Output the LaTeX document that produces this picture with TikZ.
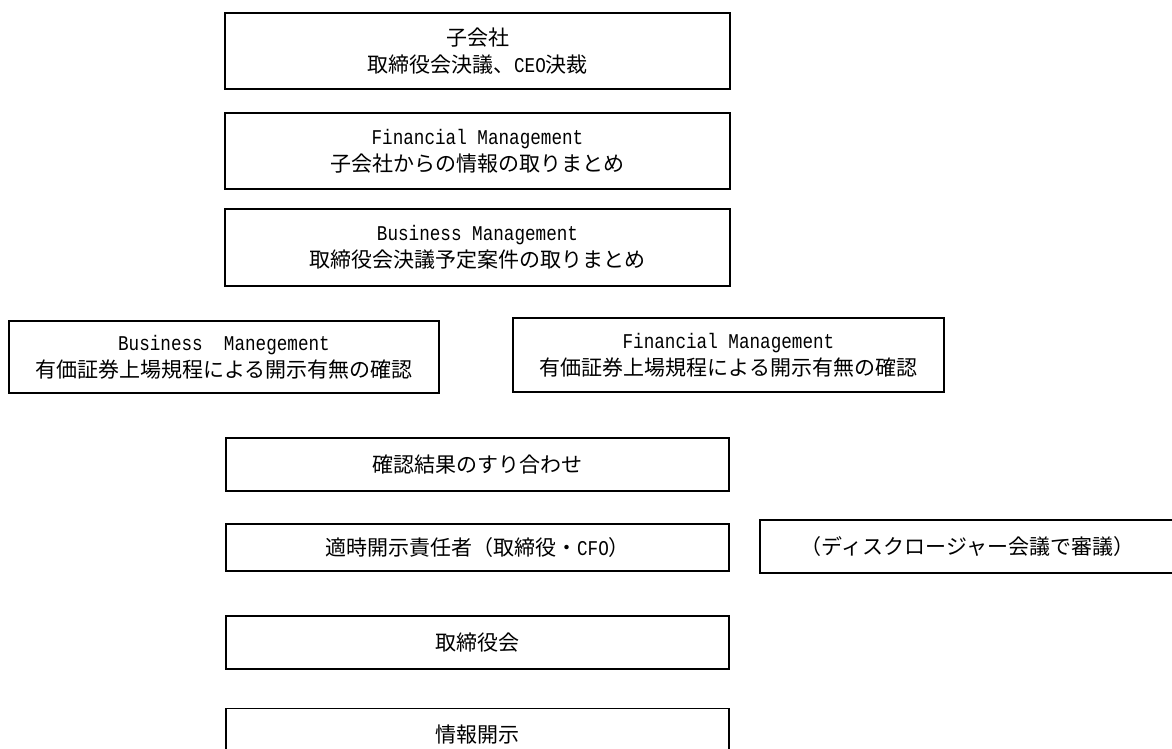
\documentclass[tikz,border=0pt]{standalone}
\usepackage{fontspec}
\setmainfont{Noto Sans CJK JP}
\newfontfamily\lat[FakeStretch=0.84]{Liberation Mono}
\tikzset{
  boxn/.style={draw=black, line width=1.6pt, rectangle, inner sep=0pt, align=center,
    font=\fontsize{21}{27}\selectfont},
}
\begin{document}
\begin{tikzpicture}[x=1pt,y=-1pt]
\useasboundingbox (0,0) rectangle (1172,749);
\clip (0,0) rectangle (1172,749);
\node[boxn, minimum width=505pt, minimum height=76pt] (b1) at (477.5,51) {子会社\\取締役会決議、{\lat CEO}決裁};
\node[boxn, minimum width=505pt, minimum height=76pt] (b2) at (477.5,151) {{\lat Financial Management}\\子会社からの情報の取りまとめ};
\node[boxn, minimum width=505pt, minimum height=77pt] (b3) at (477.5,247.5) {{\lat Business Management}\\取締役会決議予定案件の取りまとめ};
\node[boxn, minimum width=430pt, minimum height=72pt] (b4) at (224,357) {{\lat Business~~Manegement}\\有価証券上場規程による開示有無の確認};
\node[boxn, minimum width=431pt, minimum height=74pt] (b5) at (728.5,355) {{\lat Financial Management}\\有価証券上場規程による開示有無の確認};
\node[boxn, minimum width=503pt, minimum height=53pt] (b6) at (477.5,464.5) {確認結果のすり合わせ};
\node[boxn, minimum width=503pt, minimum height=47pt] (b7) at (477.5,547.5) {適時開示責任者（取締役・{\lat CFO}）};
\node[boxn, minimum width=415pt, minimum height=53pt] (b8) at (967.5,546.5) {（ディスクロージャー会議で審議）};
\node[boxn, minimum width=503pt, minimum height=53pt] (b9) at (477.5,642.5) {取締役会};
\node[boxn, minimum width=503pt, minimum height=53pt] (b10) at (477.5,735) {情報開示};
\end{tikzpicture}
\end{document}
